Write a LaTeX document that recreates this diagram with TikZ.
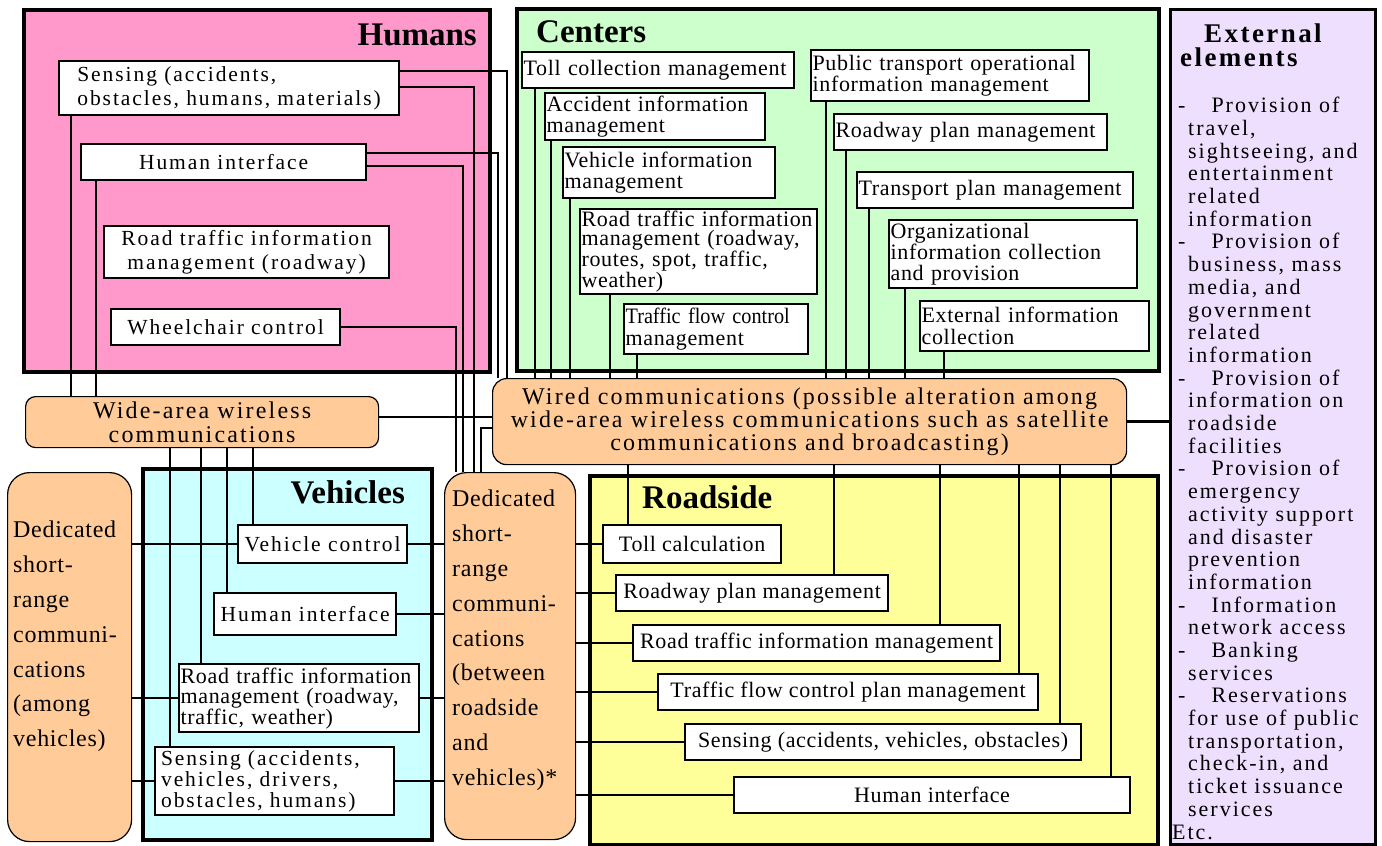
\documentclass[tikz,border=0pt]{standalone}
\usepackage{fontspec}
\setmainfont{Liberation Serif}
\newfontfamily\loosefont[LetterSpace=9]{Liberation Serif}
\newfontfamily\tightfont[LetterSpace=3]{Liberation Serif}
\newfontfamily\narrowfont[FakeStretch=0.92]{Liberation Serif}
\usetikzlibrary{positioning}

\definecolor{humanpink}{HTML}{FF99CC}
\definecolor{centergreen}{HTML}{CCFFCC}
\definecolor{vehiclecyan}{HTML}{CCFFFF}
\definecolor{roadyellow}{HTML}{FFFF99}
\definecolor{commorange}{HTML}{FFCC99}
\definecolor{extlilac}{HTML}{EFDFFF}

\newcommand{\extdash}{\hspace*{-10pt}-\hspace{26pt}}

\tikzset{
  group/.style={draw, line width=3.5pt, anchor=north west, inner sep=0pt},
  grouptitle/.style={font=\bfseries\fontsize{33}{33}\selectfont, inner sep=0pt},
  blk/.style={draw, fill=white, line width=2.2pt, anchor=north west, inner sep=1.5pt, align=center},
  leftblk/.style={blk, align=left},
  comm/.style={draw, fill=commorange, line width=1.2pt, anchor=north west, align=center},
  link/.style={line width=2.4pt},
  humantext/.style={font=\loosefont\fontsize{21.5}{23.5}\selectfont},
  centertext/.style={font=\tightfont\fontsize{22}{21.5}\selectfont},
  vehtext/.style={font=\loosefont\fontsize{21.5}{21}\selectfont},
  dsrctext/.style={font=\tightfont\fontsize{24}{34.8}\selectfont, align=left, inner sep=0pt},
  exttext/.style={font=\loosefont\fontsize{22}{22.7}\selectfont, align=left, inner sep=0pt},
}

\begin{document}
\begin{tikzpicture}[x=1pt, y=-1pt]
\useasboundingbox (0,0) rectangle (1382,846);

% groups
\node[group, fill=humanpink, minimum width=466pt, minimum height=362pt] (humans) at (22,8) {};
\node[group, fill=centergreen, minimum width=642pt, minimum height=362pt] (centers) at (515,7) {};
\node[group, fill=vehiclecyan, minimum width=289pt, minimum height=371pt] (vehicles) at (141,467) {};
\node[group, fill=roadyellow, minimum width=568pt, minimum height=369pt] (roadside) at (588,474) {};
\node[group, fill=extlilac, line width=3pt, minimum width=205pt, minimum height=835pt] (external) at (1169,8) {};

\node[grouptitle, anchor=base east] (humanstitle) at (477,45) {Humans};
\node[grouptitle, anchor=base west] (centerstitle) at (536,42) {Centers};
\node[grouptitle, anchor=base east] (vehiclestitle) at (405,503) {Vehicles};
\node[grouptitle, anchor=base west] (roadsidetitle) at (642,508) {Roadside};
\node[anchor=north west, inner sep=0pt, align=left,
  font=\loosefont\bfseries\fontsize{27}{24}\selectfont] (externaltitle) at (1180,24)
  {\hspace*{24pt}External\\elements};

% humans
\node[blk, humantext, minimum width=340pt, minimum height=54pt, align=left] (hsens) at (58,60)
  {Sensing (accidents,\\obstacles, humans, materials)};
\node[blk, humantext, minimum width=285pt, minimum height=36pt] (hhmi) at (80,143) {Human interface};
\node[blk, humantext, minimum width=285pt, minimum height=52pt] (hroad) at (103,225)
  {Road traffic information\\management (roadway)};
\node[blk, humantext, minimum width=229pt, minimum height=36pt] (hwheel) at (110,308) {Wheelchair control};

% centers
\node[leftblk, centertext, text width=269pt, minimum height=36pt] (ctoll) at (521,51) {Toll collection management};
\node[leftblk, centertext, text width=217pt, minimum height=47pt] (caccid) at (544,92)
  {Accident information\\management};
\node[leftblk, centertext, text width=209pt, minimum height=51pt] (cveh) at (562,146)
  {Vehicle information\\management};
\node[leftblk, font=\tightfont\fontsize{22}{19.3}\selectfont, text width=234pt, minimum height=80pt] (croad) at (579,208)
  {Road traffic information\\management (roadway,\\routes, spot, traffic,\\weather)};
\node[leftblk, centertext, text width=181pt, minimum height=50pt] (cflow) at (623,303)
  {{\narrowfont Traffic flow control}\\management};
\node[leftblk, centertext, text width=275pt, minimum height=51pt] (cpub) at (810,49)
  {Public transport operational\\information management};
\node[leftblk, centertext, text width=270pt, minimum height=36pt] (cplan) at (833,113) {Roadway plan management};
\node[leftblk, centertext, text width=273pt, minimum height=36pt] (ctrans) at (856,171) {Transport plan management};
\node[leftblk, font=\tightfont\fontsize{22}{21}\selectfont, text width=245pt, minimum height=68pt] (corg) at (888,219)
  {Organizational\\information collection\\and provision};
\node[leftblk, centertext, text width=226pt, minimum height=50pt] (cext) at (919,300)
  {External information\\collection};

% communications
\node[comm, rounded corners=10pt, minimum width=353pt, minimum height=51pt,
  font=\loosefont\fontsize{24}{24}\selectfont] (widearea) at (25,396)
  {Wide-area wireless\\communications};
\node[comm, rounded corners=14pt, minimum width=634pt, minimum height=86pt,
  font=\loosefont\fontsize{24}{23}\selectfont] (wired) at (492,378)
  {Wired communications (possible alteration among\\wide-area wireless communications such as satellite\\communications and broadcasting)};
\node[comm, rounded corners=22pt, minimum width=124pt, minimum height=369pt] (dsrca) at (7,472) {};
\node[dsrctext, anchor=north west] (dsrcatext) at (13,521)
  {Dedicated\\short-\\range\\communi-\\cations\\(among\\vehicles)};
\node[comm, rounded corners=22pt, minimum width=131pt, minimum height=367pt] (dsrcv) at (444,472) {};
\node[dsrctext, anchor=north west] (dsrcvtext) at (452,490)
  {Dedicated\\short-\\range\\communi-\\cations\\(between\\roadside\\and\\vehicles)*};

% vehicles
\node[blk, vehtext, minimum width=169pt, minimum height=38pt] (vctrl) at (237,524) {Vehicle control};
\node[blk, vehtext, minimum width=182pt, minimum height=42pt] (vhmi) at (213,592) {Human interface};
\node[leftblk, font=\tightfont\fontsize{22}{20.5}\selectfont, text width=237pt, minimum height=68pt] (vroad) at (178,663)
  {Road traffic information\\management (roadway,\\traffic, weather)};
\node[leftblk, vehtext, inner xsep=6pt, text width=227pt, minimum height=68pt] (vsens) at (154,746)
  {Sensing (accidents,\\vehicles, drivers,\\obstacles, humans)};

% roadside
\node[blk, centertext, minimum width=178pt, minimum height=38pt] (rtoll) at (602,524) {Toll calculation};
\node[blk, centertext, minimum width=272pt, minimum height=36pt] (rplan) at (615,574) {Roadway plan management};
\node[blk, centertext, minimum width=367pt, minimum height=36pt] (rroad) at (632,624) {Road traffic information management};
\node[blk, centertext, minimum width=380pt, minimum height=36pt] (rflow) at (657,673) {Traffic flow control plan management};
\node[blk, centertext, minimum width=396pt, minimum height=36pt] (rsens) at (684,723) {Sensing (accidents, vehicles, obstacles)};
\node[blk, centertext, minimum width=396pt, minimum height=36pt] (rhmi) at (733,776) {Human interface};

% external elements
\node[exttext, anchor=north west] (extlist) at (1188,97)
  {\extdash Provision of\\travel,\\sightseeing, and\\entertainment\\related\\information\\
   \extdash Provision of\\business, mass\\media, and\\government\\related\\information\\
   \extdash Provision of\\information on\\roadside\\facilities\\
   \extdash Provision of\\emergency\\activity support\\and disaster\\prevention\\information\\
   \extdash Information\\network access\\
   \extdash Banking\\services\\
   \extdash Reservations\\for use of public\\transportation,\\check-in, and\\ticket issuance\\services\\
   \hspace*{-16pt}Etc.};

% links from humans
\draw[link] (hsens.east |- 0,71) -| (wired.north -| 507,0);
\draw[link] (hsens.east |- 0,87) -| (dsrcv.north -| 474,0);
\draw[link] (hhmi.east |- 0,153) -| (wired.north -| 498,0);
\draw[link] (hhmi.east |- 0,166) -| (dsrcv.north -| 463,0);
\draw[link] (hwheel.east) -| (dsrcv.north -| 456,0);
\draw[link] (hsens.south -| 71,0) -- (widearea.north -| 71,0);
\draw[link] (hhmi.south -| 96,0) -- (widearea.north -| 96,0);

% links between communications
\draw[link] (widearea.east |- 0,417) -- (wired.west |- 0,417);
\draw[link] (wired.west |- 0,428) -| (dsrcv.north -| 481,0);
\draw[link] (wired.east) -- (external.west |- wired.east);

% links to vehicles
\foreach \x/\n in {170/vsens, 201/vroad, 227/vhmi, 253/vctrl}
  \draw[link] (widearea.south -| \x,0) -- (\n.north -| \x,0);
\foreach \n in {vctrl, vroad, vsens}
  \draw[link] (dsrca.east |- \n.west) -- (\n.west);
\foreach \n in {vctrl, vhmi, vroad, vsens}
  \draw[link] (\n.east) -- (dsrcv.west |- \n.east);

% links to roadside
\foreach \n in {rtoll, rplan, rroad, rflow, rsens, rhmi}
  \draw[link] (dsrcv.east |- \n.west) -- (\n.west);
\foreach \x/\n in {628/rtoll, 834/rplan, 940/rroad, 1019/rflow, 1060/rsens, 1111/rhmi}
  \draw[link] (wired.south -| \x,0) -- (\n.north -| \x,0);

% links from centers
\foreach \x/\n in {535/ctoll, 551/caccid, 570/cveh, 610/croad, 637/cflow, 826/cpub, 846/cplan, 869/ctrans, 905/corg, 944/cext}
  \draw[link] (\n.south -| \x,0) -- (wired.north -| \x,0);
\end{tikzpicture}
\end{document}
